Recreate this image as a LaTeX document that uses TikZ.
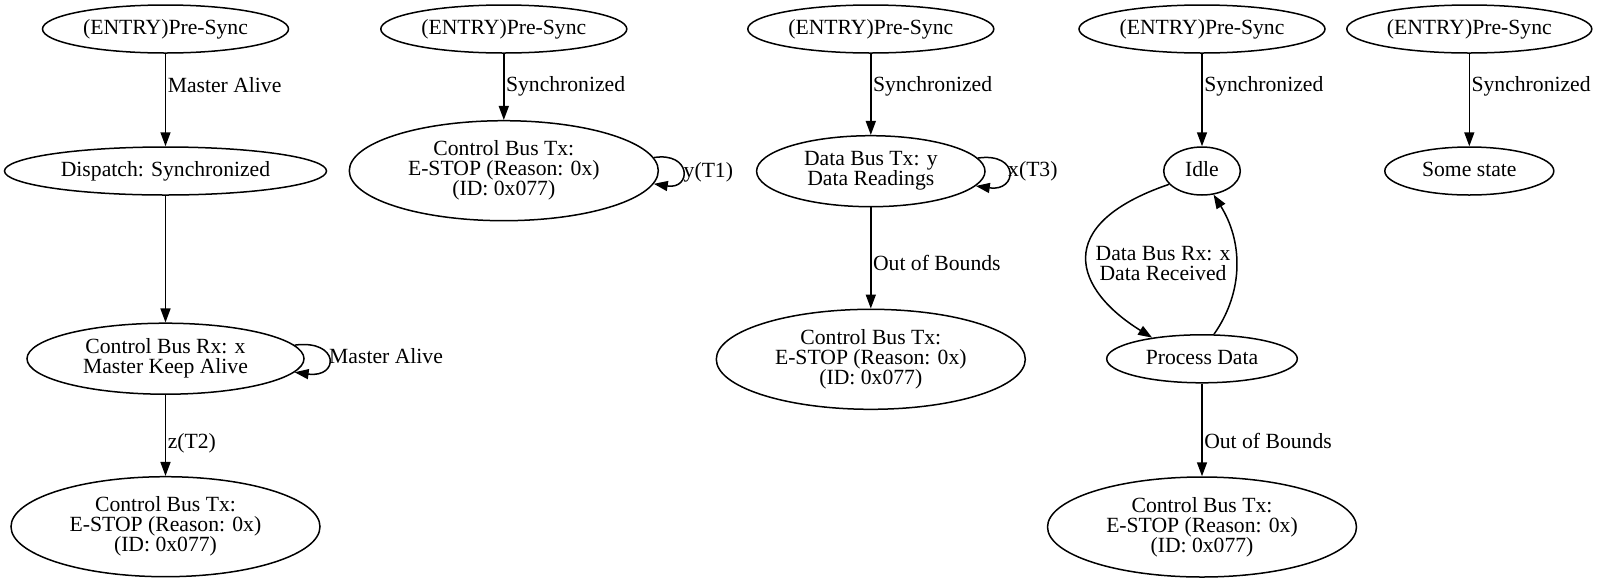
\documentclass[tikz,border=0pt]{standalone}
\usepackage{fontspec}
\setmainfont{Liberation Serif}
\usetikzlibrary{arrows.meta,shapes.geometric}
\newcommand\gvfont{\fontsize{21.66}{20}\selectfont}
\tikzset{
  st/.style={draw, ellipse, inner sep=0pt, line width=1.5pt, font=\gvfont, align=center},
  one/.style={text height=15.3pt, text depth=4.7pt},
  edge/.style={draw, line width=1.5pt, -{Triangle[length=14pt,width=10pt]}},
  lbl/.style={font=\gvfont, anchor=base west, inner sep=0pt},
}
\begin{document}
\begin{tikzpicture}[x=1pt,y=-1pt]
\useasboundingbox (0,0) rectangle (1604,582);
% column 1
\node[st,one,minimum width=246pt,minimum height=48pt] (e1) at (165.5,29) {(ENTRY)Pre-Sync};
\node[st,one,minimum width=322pt,minimum height=48pt] (d1) at (165.5,171) {Dispatch: Synchronized};
\node[st,minimum width=277pt,minimum height=71pt] (r1) at (165.5,358.7) {Control Bus Rx: x\\Master Keep Alive};
\node[st,minimum width=309pt,minimum height=100pt] (t1) at (165.5,526.7) {Control Bus Tx:\\E-STOP (Reason: 0x)\\(ID: 0x077)};
\draw[edge] (e1) -- (d1) node[lbl] (l1) at (167,92.7) {Master Alive};
\draw[edge] (d1) -- (r1);
\draw[edge] (r1) -- (t1) node[lbl] (l2) at (167,448.3) {z(T2)};
\draw[edge] (r1.6) .. controls +(45,-6) and +(45,6) .. (r1.-6);
\node[lbl] (l3) at (329,363.3) {Master Alive};
% column 2
\node[st,one,minimum width=246pt,minimum height=48pt] (e2) at (503.8,29) {(ENTRY)Pre-Sync};
\node[st,minimum width=309pt,minimum height=100pt] (t2) at (503.8,170.7) {Control Bus Tx:\\E-STOP (Reason: 0x)\\(ID: 0x077)};
\draw[edge] (e2) -- (t2) node[lbl] (l4) at (505.3,91.7) {Synchronized};
\draw[edge] (t2.5) .. controls +(38,-6) and +(38,6) .. (t2.-5.5);
\node[lbl] (l5) at (683.5,177.3) {y(T1)};
% column 3
\node[st,one,minimum width=246pt,minimum height=48pt] (e3) at (870.8,29) {(ENTRY)Pre-Sync};
\node[st,minimum width=228.4pt,minimum height=71pt] (x3) at (870.8,171.2) {Data Bus Tx: y\\Data Readings};
\node[st,minimum width=309pt,minimum height=100pt] (t3) at (870.8,359.3) {Control Bus Tx:\\E-STOP (Reason: 0x)\\(ID: 0x077)};
\draw[edge] (e3) -- (x3) node[lbl] (l6) at (872.3,91.7) {Synchronized};
\draw[edge] (x3) -- (t3) node[lbl] (l7) at (872.3,270) {Out of Bounds};
\draw[edge] (x3.7.5) .. controls +(42,-6) and +(42,6) .. (x3.-8.5);
\node[lbl] (l8) at (1008,176) {x(T3)};
% column 4
\node[st,one,minimum width=246pt,minimum height=48pt] (e4) at (1202,29) {(ENTRY)Pre-Sync};
\node[st,one,minimum width=76.6pt,minimum height=48pt] (i4) at (1202,171) {Idle};
\node[st,one,minimum width=190.6pt,minimum height=48pt] (p4) at (1202,358.8) {Process Data};
\node[st,minimum width=309pt,minimum height=100pt] (t4) at (1202,527) {Control Bus Tx:\\E-STOP (Reason: 0x)\\(ID: 0x077)};
\draw[edge] (e4) -- (i4) node[lbl] (l9) at (1203.5,91.7) {Synchronized};
\draw[edge] (i4.202) .. controls (1050,225) and (1075,290) .. (p4.157.6);
\draw[edge] (p4.64) .. controls (1245,290) and (1242,240) .. (i4.-64);
\node[font=\gvfont, inner sep=0pt, align=center] (l10) at (1163,264) {Data Bus Rx: x\\Data Received};
\draw[edge] (p4) -- (t4) node[lbl] (l11) at (1203.5,448) {Out of Bounds};
% column 5
\node[st,one,minimum width=245pt,minimum height=48pt] (e5) at (1469.3,29) {(ENTRY)Pre-Sync};
\node[st,one,minimum width=169pt,minimum height=48pt] (s5) at (1469.3,171) {Some state};
\draw[edge] (e5) -- (s5) node[lbl] (l12) at (1470.8,91.7) {Synchronized};
\end{tikzpicture}
\end{document}
